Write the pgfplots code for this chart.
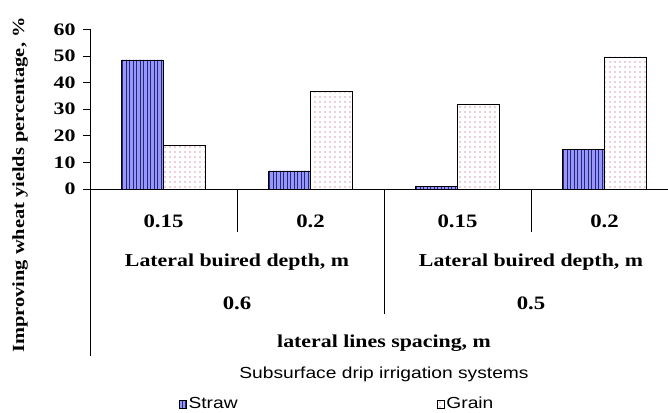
\documentclass[border=0pt]{standalone}
\usepackage{fontspec}
\setmainfont{Liberation Serif}
\newfontfamily\wideserif[FakeStretch=1.2]{Liberation Serif}
\newfontfamily\widertick[FakeStretch=1.25]{Liberation Serif}
\newfontfamily\widesans[FakeStretch=1.2]{Liberation Sans}
\usepackage{pgfplots}
\pgfplotsset{compat=1.18}
\usetikzlibrary{patterns.meta}
\definecolor{strawfill}{RGB}{150,150,255}
\definecolor{strawline}{RGB}{40,40,110}
\definecolor{dotpink}{RGB}{190,40,100}
\pgfplotstableread{
x straw grain
0 48.5 16.4
1 6.8 36.8
2 0.9 31.9
3 14.9 49.6
}\datatable
\begin{document}
\begin{tikzpicture}[x=1pt,y=1pt]
\useasboundingbox (0,0) rectangle (668,412);
\begin{axis}[
  at={(90pt,223pt)}, anchor=south west,
  scale only axis, width=578pt, height=159.7pt,
  xmin=-0.5, xmax=3.432, ymin=0, ymax=60,
  axis lines=left, axis line style={-, black, line width=0.8pt},
  xtick=\empty,
  ytick={0,10,...,60},
  tick align=outside, major tick length=7pt,
  tick style={black, line width=0.8pt},
  yticklabel style={font=\widertick\fontsize{17.5}{19}\selectfont\bfseries, xshift=-4pt},
  /pgf/number format/assume math mode=true,
  ybar=0pt, bar width=42pt,
  clip=false,
  legend columns=2,
  legend style={at={(0.148,-1.346)}, anchor=west, draw=none, fill=none,
    font=\widesans\fontsize{16}{18}\selectfont,
    /tikz/every even column/.append style={column sep=197pt}},
  legend image code/.code={\draw[#1] (0pt,-4pt) rectangle (7pt,4pt);},
]
\addplot[draw=black, line width=0.8pt, fill=strawfill,
  postaction={pattern={Lines[angle=90,distance=3.5pt,line width=0.9pt]}, pattern color=strawline}]
  table[x=x,y=straw]{\datatable};
\addplot[draw=black, line width=0.8pt, fill=white,
  postaction={pattern={Dots[distance=5pt,radius=0.6pt]}, pattern color=dotpink}]
  table[x=x,y=grain]{\datatable};
\legend{Straw,Grain}
\draw[black, line width=0.8pt] (axis cs:0.5,0) -- (axis cs:0.5,-16.2);
\draw[black, line width=0.8pt] (axis cs:2.5,0) -- (axis cs:2.5,-16.2);
\draw[black, line width=0.8pt] (axis cs:1.5,0) -- (axis cs:1.5,-47);
\draw[black, line width=0.8pt] (axis cs:-0.5,0) -- (axis cs:-0.5,-62.7);
\begin{scope}[every node/.style={font=\wideserif\fontsize{19}{21}\selectfont\bfseries}]
\node at (axis cs:0,-12) {0.15};
\node at (axis cs:1,-12) {0.2};
\node at (axis cs:2,-12) {0.15};
\node at (axis cs:3,-12) {0.2};
\node at (axis cs:0.5,-42.8) {0.6};
\node at (axis cs:2.5,-42.8) {0.5};
\end{scope}
\begin{scope}[every node/.style={font=\wideserif\fontsize{18.2}{20}\selectfont\bfseries}]
\node at (axis cs:0.5,-27.4) {Lateral buired depth, m};
\node at (axis cs:2.5,-27.4) {Lateral buired depth, m};
\node at (axis cs:1.5,-57.9) {lateral lines spacing, m};
\end{scope}
\node[font=\widesans\fontsize{16}{18}\selectfont] at (axis cs:1.5,-69.5) {Subsurface drip irrigation systems};
\end{axis}
\node[rotate=90, font=\wideserif\fontsize{17}{19}\selectfont\bfseries] at (20pt,227pt) {Improving wheat yields percentage, \%};
\end{tikzpicture}
\end{document}
